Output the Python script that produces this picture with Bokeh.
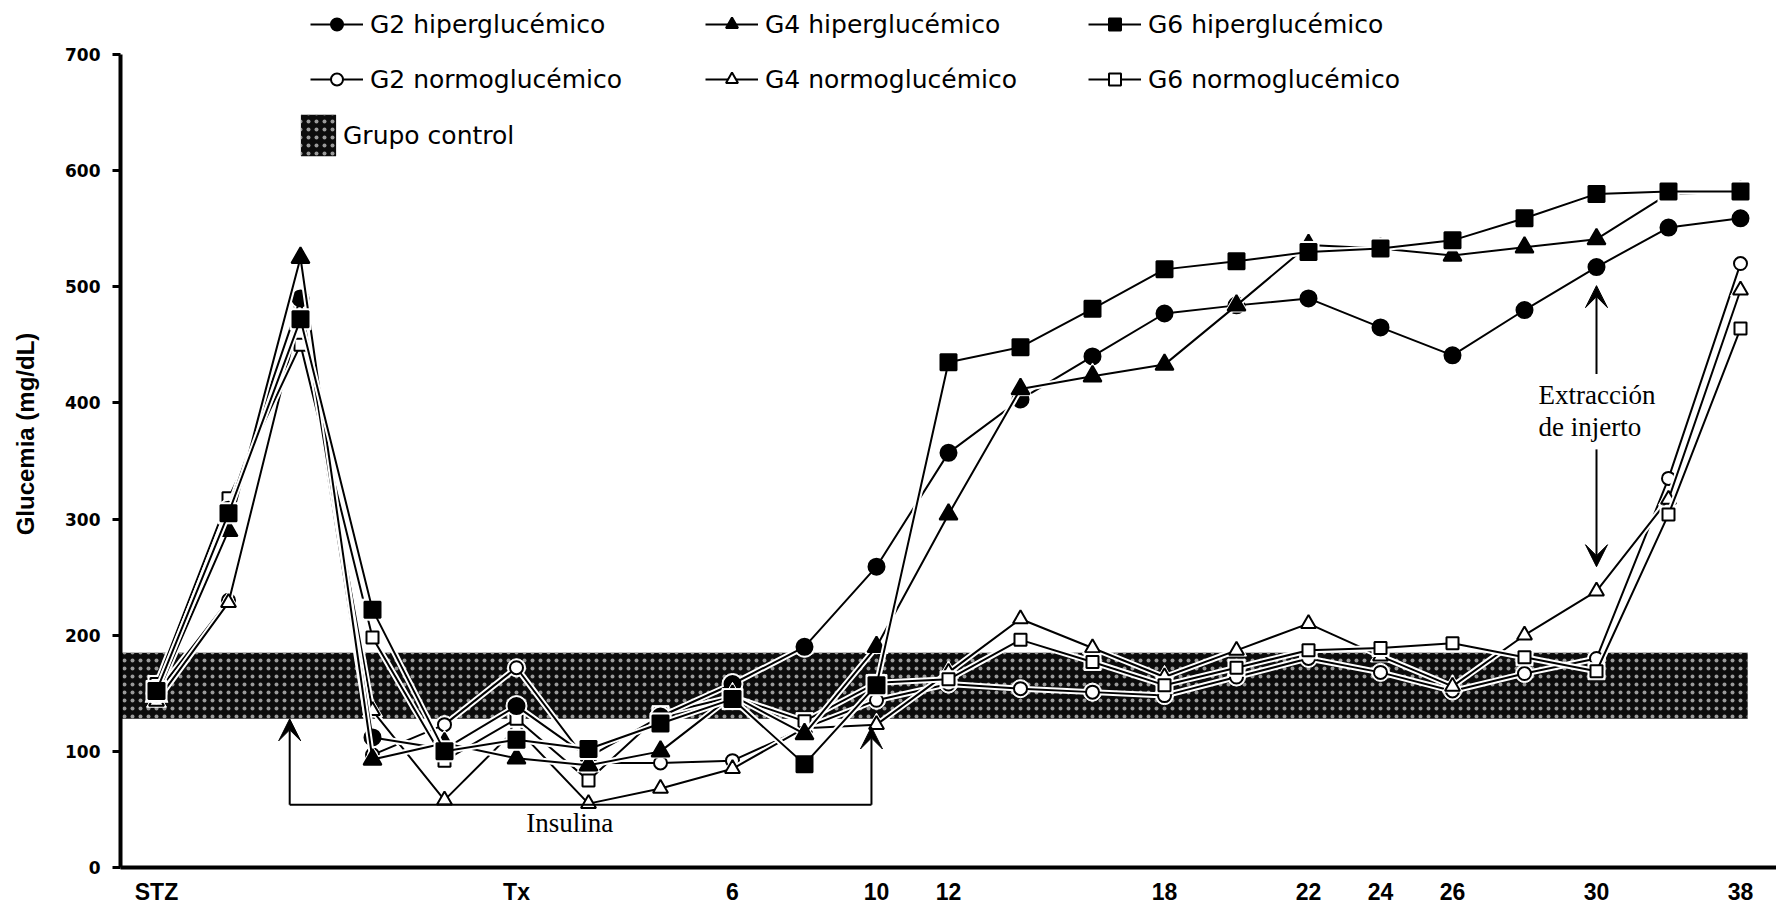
from bokeh.plotting import figure
from bokeh.models import Range1d, FixedTicker, Legend, LegendItem, Arrow, VeeHead, Label
from bokeh.embed import file_html
from bokeh.resources import INLINE

# ---------------- data ----------------
time_index = list(range(23))
tick_positions = [0, 5, 8, 10, 11, 14, 16, 17, 18, 20, 22]
tick_labels = ["STZ", "Tx", "6", "10", "12", "18", "22", "24", "26", "30", "38"]

g2_hiper = [150, 308, 490, 112, 102, 139, 95, 130, 158, 190, 259, 357, 403, 440, 477, 484, 490, 465, 441, 480, 517, 551, 559]
g4_hiper = [148, 290, 525, 93, 107, 94, 88, 100, 148, 115, 190, 304, 412, 423, 433, 484, 536, 533, 527, 534, 541, 580, 582]
g6_hiper = [152, 305, 472, 222, 100, 110, 102, 124, 145, 89, 157, 435, 448, 481, 515, 522, 530, 533, 540, 559, 580, 582, 582]
g2_normo = [150, 230, 485, 97, 123, 172, 90, 90, 92, 120, 144, 158, 154, 151, 148, 164, 180, 168, 152, 167, 180, 335, 520]
g4_normo = [143, 228, 478, 135, 58, 120, 55, 68, 85, 120, 123, 168, 214, 189, 164, 187, 210, 182, 156, 200, 238, 317, 497]
g6_normo = [158, 318, 450, 198, 92, 128, 75, 132, 147, 126, 159, 162, 196, 177, 157, 172, 187, 189, 193, 181, 169, 304, 464]

control_low = 128
control_high = 185

# ---------------- figure ----------------
p = figure(width=1776, height=910, title=None,
           x_range=Range1d(-0.5, 22.5), y_range=Range1d(0, 746.5),
           output_backend="svg", toolbar_location=None,
           min_border_left=120, min_border_right=0,
           min_border_top=0, min_border_bottom=43)
p.xgrid.visible = False
p.ygrid.visible = False
p.outline_line_color = None
p.background_fill_color = "white"

# y axis
ya = p.yaxis[0]
ya.bounds = (0, 700)
ya.ticker = FixedTicker(ticks=[0, 100, 200, 300, 400, 500, 600, 700])
ya.axis_line_width = 4
ya.axis_line_color = "black"
ya.major_tick_out = 8
ya.major_tick_in = 0
ya.major_tick_line_width = 3
ya.minor_tick_line_color = None
ya.major_label_text_font = "DejaVu Sans"
ya.major_label_text_font_style = "bold"
ya.major_label_text_font_size = "17px"
ya.major_label_text_color = "black"
ya.major_label_standoff = 12
ya.axis_label = "Glucemia (mg/dL)"
ya.axis_label_text_font = "Liberation Sans"
ya.axis_label_text_font_style = "bold"
ya.axis_label_text_font_size = "24px"
ya.axis_label_text_color = "black"
ya.axis_label_standoff = 23

# x axis
xa = p.xaxis[0]
xa.ticker = FixedTicker(ticks=tick_positions)
xa.major_label_overrides = {t: l for t, l in zip(tick_positions, tick_labels)}
xa.axis_line_width = 4
xa.axis_line_color = "black"
xa.major_tick_line_color = None
xa.major_tick_out = 0
xa.major_tick_in = 0
xa.minor_tick_line_color = None
xa.major_label_text_font = "Liberation Sans"
xa.major_label_text_font_style = "bold"
xa.major_label_text_font_size = "23px"
xa.major_label_text_color = "black"
xa.major_label_standoff = 11

# control band
band = p.quad(left=-0.5, right=22.1, bottom=control_low, top=control_high,
              fill_color="#0c0c0c", line_color=None,
              hatch_pattern="dot", hatch_color="#9a9a9a", hatch_scale=8, hatch_weight=1.6)

series = [
    ("G2 normoglucémico", g2_normo, "circle", "white", 13),
    ("G4 normoglucémico", g4_normo, "triangle", "white", 15),
    ("G6 normoglucémico", g6_normo, "square", "white", 12),
    ("G2 hiperglucémico", g2_hiper, "circle", "black", 16),
    ("G4 hiperglucémico", g4_hiper, "triangle", "black", 18),
    ("G6 hiperglucémico", g6_hiper, "square", "black", 16),
]

rend = {}
for name, vals, marker, fill, size in series:
    p.line(time_index, vals, line_color="white", line_width=6)
    p.scatter(time_index, vals, marker=marker, size=size + 5, fill_color="white", line_color="white")
    ln = p.line(time_index, vals, line_color="black", line_width=2)
    sc = p.scatter(time_index, vals, marker=marker, size=size, fill_color=fill,
                   line_color="black", line_width=2)
    rend[name] = [ln, sc]

def make_legend(names, loc):
    return Legend(items=[LegendItem(label=n, renderers=rend[n]) for n in names],
                  location=loc, orientation="vertical",
                  glyph_width=53, glyph_height=30, label_height=30,
                  label_standoff=7, spacing=25, padding=0, margin=0,
                  border_line_alpha=0, background_fill_alpha=0,
                  label_text_font="DejaVu Sans", label_text_font_size="25px",
                  label_text_color="black")

p.add_layout(make_legend(["G2 hiperglucémico", "G2 normoglucémico"], (190, 773)))
p.add_layout(make_legend(["G4 hiperglucémico", "G4 normoglucémico"], (585, 773)))
p.add_layout(make_legend(["G6 hiperglucémico", "G6 normoglucémico"], (968, 773)))
p.add_layout(Legend(items=[LegendItem(label="Grupo control", renderers=[band])],
                    location=(176, 706), glyph_width=44, glyph_height=52, label_height=30,
                    label_standoff=3, padding=0, margin=0,
                    border_line_alpha=0, background_fill_alpha=0,
                    label_text_font="DejaVu Sans", label_text_font_size="25px",
                    label_text_color="black"))

# annotations: insulin bracket
def vee():
    return VeeHead(size=22, fill_color="black", line_color="black", line_width=1)

p.add_layout(Arrow(end=None, x_start=1.85, y_start=54, x_end=9.93, y_end=54,
                   line_width=2, line_color="black"))
p.add_layout(Arrow(end=vee(), x_start=1.85, y_start=54, x_end=1.85, y_end=128,
                   line_width=2, line_color="black"))
p.add_layout(Arrow(end=vee(), x_start=9.93, y_start=54, x_end=9.93, y_end=121,
                   line_width=2, line_color="black"))
p.add_layout(Label(x=5.74, y=38, text="Insulina", text_align="center",
                   text_baseline="alphabetic", text_font="Liberation Serif",
                   text_font_size="27px", text_color="black"))

# graft extraction arrows
p.add_layout(Arrow(end=vee(), x_start=20, y_start=425, x_end=20, y_end=501,
                   line_width=2, line_color="black"))
p.add_layout(Arrow(end=vee(), x_start=20, y_start=360, x_end=20, y_end=259,
                   line_width=2, line_color="black"))
p.add_layout(Label(x=20, y=407, x_offset=-58, text="Extracción", text_align="left",
                   text_baseline="alphabetic", text_font="Liberation Serif",
                   text_font_size="27px", text_color="black"))
p.add_layout(Label(x=20, y=379, x_offset=-58, text="de injerto", text_align="left",
                   text_baseline="alphabetic", text_font="Liberation Serif",
                   text_font_size="27px", text_color="black"))

open("out.html", "w").write(file_html(p, INLINE))
